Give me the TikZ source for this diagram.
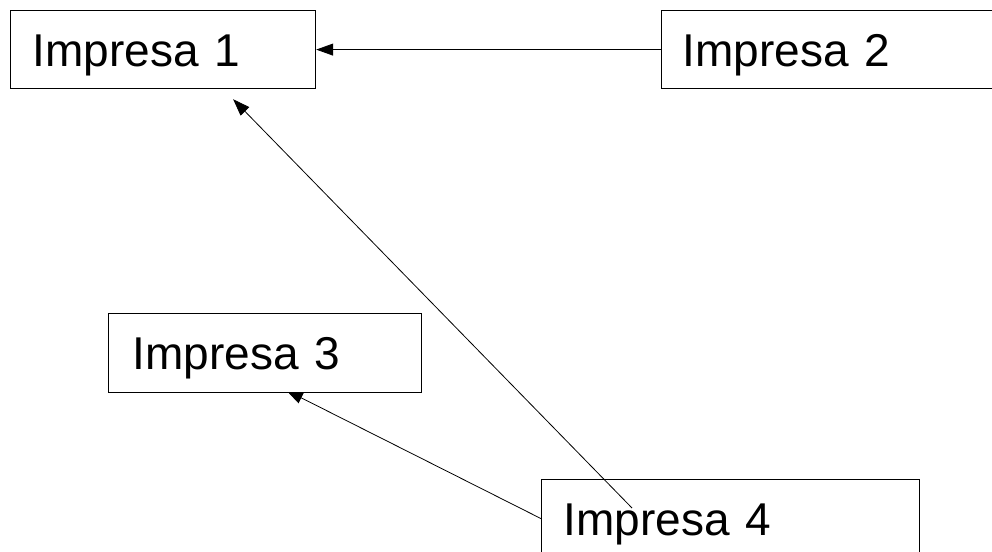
\documentclass[tikz,border=0pt]{standalone}
\usepackage{fontspec}
\setmainfont{Liberation Sans}
\usetikzlibrary{arrows.meta,backgrounds,calc}
\begin{document}
\begin{tikzpicture}[x=1pt,y=1pt,
  box/.style={draw, line width=1.2pt, fill=white, rectangle, anchor=north west,
    minimum height=78pt, inner xsep=22pt, inner ysep=0pt, text height=33pt,
    text depth=0pt, align=left, font=\fontsize{46}{55}\selectfont},
  arr/.style={line width=0.8pt, -{Triangle[length=17pt,width=12pt]}}]
\useasboundingbox (0,0) rectangle (992,-551);
\clip (0,0) rectangle (992,-551);
\node[box, text width=261pt] (i1) at (10,-10) {Impresa 1};
\node[box, text width=298pt, inner xsep=21pt] (i2) at (661,-10) {Impresa 2};
\node[box, text width=265pt, inner xsep=24pt, minimum height=79pt] (i3) at (108,-313) {Impresa 3};
\node[box, text width=334pt] (i4) at (541,-479) {Impresa 4};
\draw[arr] (i2.west) -- (i1.east);
\draw[arr] ($(i4.north west)+(91,-29)$) -- ($(i1.south)+(70,-10)$);
\begin{pgfonlayer}{background}
\draw[arr] (i4.west) -- ($(i3.south)+(21,3)$);
\end{pgfonlayer}
\end{tikzpicture}
\end{document}
